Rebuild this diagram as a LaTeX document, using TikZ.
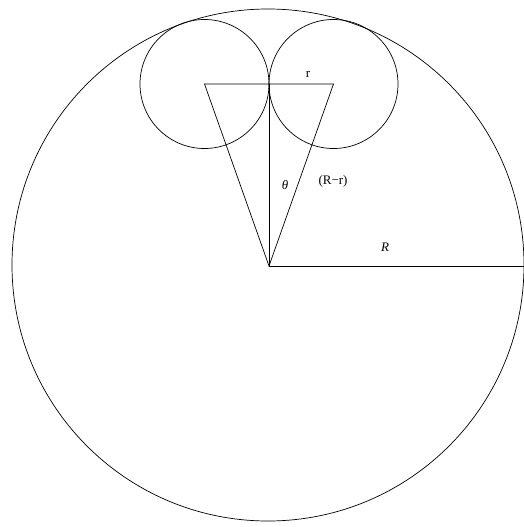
\documentclass[tikz,border=0pt]{standalone}
\usepackage{fontspec}
\setmainfont{Liberation Serif}
\begin{document}
\begin{tikzpicture}[x=1pt,y=-1pt,
  geom/.style={line width=0.7pt,black},
  lbl/.style={inner sep=0pt,font=\fontsize{13}{15}\selectfont}]
\useasboundingbox (0,0) rectangle (524,527);
\coordinate (O) at (268,265);
\coordinate (C1) at (204.5,84);
\coordinate (C2) at (333.5,84);
\coordinate (T) at (269,84);
\coordinate (A) at (269,266);
\coordinate (E) at (524,266);
\draw[geom] (O) circle (256);
\draw[geom] (C1) circle (64.5);
\draw[geom] (C2) circle (64.5);
\draw[geom] (C1) -- (C2) -- (A) -- cycle;
\draw[geom] (T) -- (A);
\draw[geom] (A) -- (E);
\node[lbl] (lr) at (308,74) {r};
\node[lbl] (lth) at (285,185) {\itshape θ};
\node[lbl] (lrr) at (333,181) {(R\textminus r)};
\node[lbl] (lR) at (385,247) {\itshape R};
\end{tikzpicture}
\end{document}
